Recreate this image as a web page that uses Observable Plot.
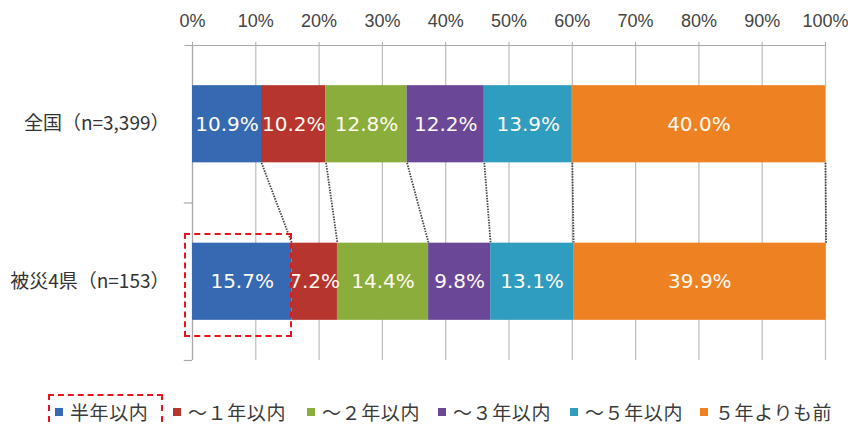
<!DOCTYPE html>
<html><head><meta charset="utf-8">
<script src="https://cdn.jsdelivr.net/npm/d3@7"></script>
<script src="https://cdn.jsdelivr.net/npm/@observablehq/plot@0.6"></script>
<style>
body{margin:0;background:#fff;}
#wrap{position:relative;width:848px;height:425px;overflow:hidden;background:#fff;}
#legend{position:absolute;left:0;top:400px;width:848px;height:24px;font-family:"Noto Sans CJK JP",sans-serif;font-size:19px;color:#3a3a3a;line-height:24px;letter-spacing:0.6px;}
#legend .it{position:absolute;top:0;display:flex;align-items:center;white-space:nowrap;}
#legend .sw{width:8px;height:8px;margin-right:7px;}
.box{position:absolute;border:2px dashed #e8141b;box-sizing:border-box;}
</style>
</head><body>
<div id="wrap"><div id="chart"></div><div id="legend"></div>
<div class="box" style="left:184px;top:233px;width:108px;height:104px;"></div>
<div class="box" style="left:48px;top:394px;width:115px;height:50px;"></div>
</div>
<script>
const categories = ["全国（n=3,399）", "被災4県（n=153）"];
const series = ["半年以内", "～１年以内", "～２年以内", "～３年以内", "～５年以内", "５年よりも前"];
const national = [10.9, 10.2, 12.8, 12.2, 13.9, 40.0];
const disaster = [15.7, 7.2, 14.4, 9.8, 13.1, 39.9];
const xTicks = [0, 10, 20, 30, 40, 50, 60, 70, 80, 90, 100];
const colors = ["#356ab3", "#b7352f", "#8aad3b", "#6b4797", "#2f9dc0", "#ee8223"];

const valuesByCat = [national, disaster];
const rows = [];
categories.forEach((c, ci) => {
  const cum = Array.from(d3.cumsum(valuesByCat[ci]));
  series.forEach((s, si) => {
    rows.push({cat: c, ci, series: s, value: valuesByCat[ci][si],
      x1: si === 0 ? 0 : cum[si - 1], x2: cum[si]});
  });
});
const cumTop = Array.from(d3.cumsum(national));
const cumBot = Array.from(d3.cumsum(disaster));
const links = series.map((s, i) => ({x1: cumTop[i], x2: cumBot[i]}));
const half = 0.245;

const chart = Plot.plot({
  width: 848, height: 380,
  marginTop: 45, marginBottom: 20, marginLeft: 192, marginRight: 23,
  x: {domain: [0, 100]},
  y: {domain: [0, 2], reverse: true, axis: null},
  color: {domain: series, range: colors},
  marks: [
    Plot.ruleX(xTicks, {y1: 0, y2: 2, stroke: "#bdbdbd", strokeWidth: 1.2}),
    Plot.ruleY([0], {x1: -1.2, x2: 100, stroke: "#a8a8a8", strokeWidth: 1.2}),
    Plot.ruleX([0], {y1: 0, y2: 2, stroke: "#a8a8a8", strokeWidth: 1.2}),
    Plot.ruleY([1, 2], {x1: -1.3, x2: 0, stroke: "#a8a8a8", strokeWidth: 1.2}),
    Plot.axisX({anchor: "top", ticks: xTicks, tickFormat: d => d + "%", tickSize: 4,
      tickPadding: 15, fontSize: 18, fill: "#444", stroke: "#a8a8a8", label: null,
      fontFamily: "Liberation Sans, sans-serif"}),
    Plot.link(links, {x1: "x1", x2: "x2", y1: 0.5 + half, y2: 1.5 - half,
      stroke: "#444", strokeWidth: 1.8, strokeDasharray: "1.5,1.2"}),
    Plot.rect(rows, {x1: "x1", x2: "x2", y1: d => d.ci + 0.5 - half, y2: d => d.ci + 0.5 + half, fill: "series"}),
    Plot.text(rows, {x: d => (d.x1 + d.x2) / 2, y: d => d.ci + 0.5, text: d => d.value.toFixed(1) + "%",
      fill: "#fffaf0", fontSize: 20, fontFamily: "DejaVu Sans, sans-serif"}),
    Plot.text(categories, {x: 0, y: (d, i) => i + 0.5, text: d => d, textAnchor: "end", dx: -23,
      fontSize: 19, fill: "#333", fontFamily: "Noto Sans CJK JP, sans-serif"})
  ]
});
document.getElementById("chart").appendChild(chart);

const legendX = [55, 173, 307, 438, 570, 700];
const legend = document.getElementById("legend");
series.forEach((s, i) => {
  const it = document.createElement("div"); it.className = "it"; it.style.left = legendX[i] + "px";
  const sw = document.createElement("span"); sw.className = "sw"; sw.style.background = colors[i];
  const t = document.createElement("span"); t.textContent = s;
  it.appendChild(sw); it.appendChild(t); legend.appendChild(it);
});
</script>
</body></html>
